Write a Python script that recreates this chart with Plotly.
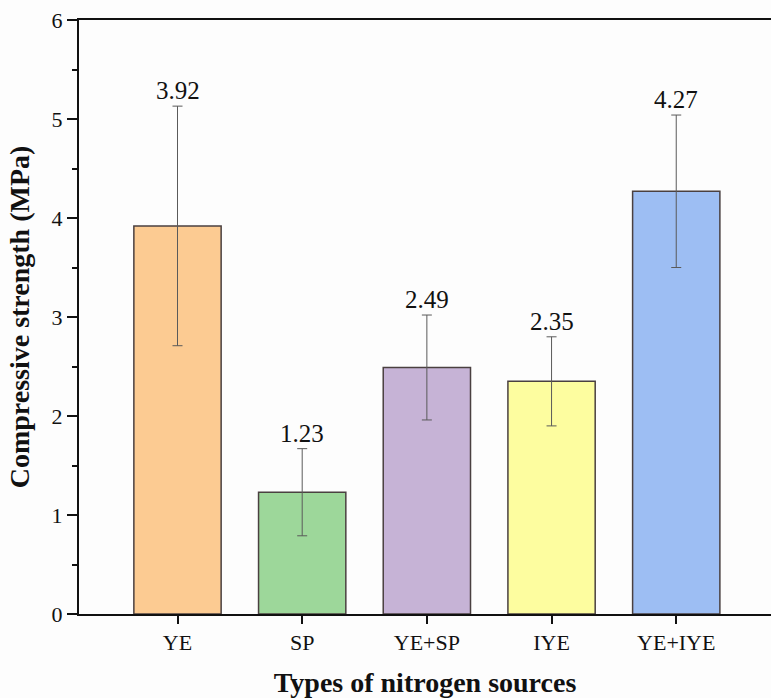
import plotly.graph_objects as go

categories = ["YE", "SP", "YE+SP", "IYE", "YE+IYE"]
strength = [3.92, 1.23, 2.49, 2.35, 4.27]
strength_sd = [1.21, 0.44, 0.53, 0.45, 0.77]
bar_colors = ["#FCCB92", "#9DD79A", "#C6B3D6", "#FDFD9F", "#9DBEF3"]

x_idx = list(range(len(categories)))
FONT = "Times New Roman, Liberation Serif, DejaVu Serif, serif"

fig = go.Figure()
fig.add_trace(go.Bar(
    x=x_idx,
    y=strength,
    width=0.7,
    marker=dict(color=bar_colors, line=dict(color="#4a4040", width=1.5)),
    error_y=dict(type="data", array=strength_sd, visible=True,
                 color="#5a5a5a", thickness=1, width=5),
    showlegend=False,
))

# value labels above the error bar caps
for xi, v, e in zip(x_idx, strength, strength_sd):
    fig.add_annotation(
        x=xi, y=v + e, text=f"{v:.2f}", showarrow=False,
        yanchor="bottom", yshift=0,
        font=dict(family=FONT, size=25, color="#111111"),
    )

fig.update_layout(
    width=771, height=698,
    margin=dict(l=79, r=0, t=20, b=84),
    paper_bgcolor="#fdfdfd",
    plot_bgcolor="#fdfdfd",
    font=dict(family=FONT, color="#111111"),
    bargap=0.3,
)

fig.update_xaxes(
    range=[-0.79, 4.76], automargin=False,
    tickmode="array", tickvals=x_idx, ticktext=categories,
    showline=True, linecolor="#111111", linewidth=2, mirror=True,
    ticks="outside", ticklen=8, tickwidth=2, tickcolor="#111111",
    tickfont=dict(family=FONT, size=22),
    showgrid=False, zeroline=False,
    title=dict(text="<b>Types of nitrogen sources</b>",
               font=dict(family=FONT, size=28), standoff=26),
)

fig.update_yaxes(
    range=[0, 6], automargin=False,
    tickmode="array", tickvals=[0, 1, 2, 3, 4, 5, 6],
    showline=True, linecolor="#111111", linewidth=2,
    ticks="outside", ticklen=10, tickwidth=2, tickcolor="#111111",
    tickfont=dict(family=FONT, size=22),
    minor=dict(tickvals=[0.5, 1.5, 2.5, 3.5, 4.5, 5.5], ticks="outside",
               ticklen=5, tickwidth=2, tickcolor="#111111"),
    showgrid=False, zeroline=False,
    title=dict(text="<b>Compressive strength (MPa)</b>",
               font=dict(family=FONT, size=28), standoff=14),
)

fig.write_html("out.html")
